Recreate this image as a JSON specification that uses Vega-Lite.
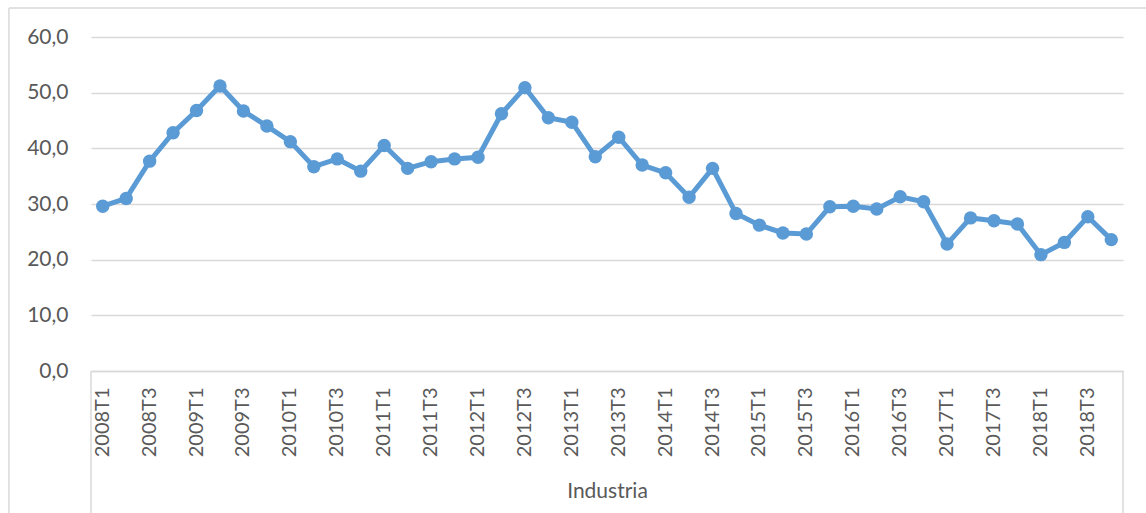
{
  "$schema": "https://vega.github.io/schema/vega-lite/v6.json",
  "width": 1032,
  "height": 334,
  "autosize": {"type": "none"},
  "padding": {"left": 91, "top": 37, "right": 23, "bottom": 142},
  "background": "white",
  "config": {"view": {"stroke": null}, "font": "Lato"},
  "title": {
    "text": "Gráfico 6: Ocupados del sector Industria en Andalucía (miles de personas) (2008-2018)",
    "anchor": "start",
    "frame": "group",
    "orient": "top",
    "baseline": "alphabetic",
    "offset": 4,
    "dx": -86,
    "font": "Liberation Serif",
    "fontStyle": "italic",
    "fontWeight": "bold",
    "fontSize": 24,
    "color": "#000000"
  },
  "data": {
    "values": [
      {"quarter": "2008T1", "value": 29.6}, {"quarter": "2008T2", "value": 31.0},
      {"quarter": "2008T3", "value": 37.7}, {"quarter": "2008T4", "value": 42.8},
      {"quarter": "2009T1", "value": 46.8}, {"quarter": "2009T2", "value": 51.2},
      {"quarter": "2009T3", "value": 46.7}, {"quarter": "2009T4", "value": 44.0},
      {"quarter": "2010T1", "value": 41.2}, {"quarter": "2010T2", "value": 36.7},
      {"quarter": "2010T3", "value": 38.1}, {"quarter": "2010T4", "value": 35.9},
      {"quarter": "2011T1", "value": 40.5}, {"quarter": "2011T2", "value": 36.4},
      {"quarter": "2011T3", "value": 37.6}, {"quarter": "2011T4", "value": 38.1},
      {"quarter": "2012T1", "value": 38.4}, {"quarter": "2012T2", "value": 46.2},
      {"quarter": "2012T3", "value": 50.9}, {"quarter": "2012T4", "value": 45.5},
      {"quarter": "2013T1", "value": 44.7}, {"quarter": "2013T2", "value": 38.5},
      {"quarter": "2013T3", "value": 42.0}, {"quarter": "2013T4", "value": 37.0},
      {"quarter": "2014T1", "value": 35.6}, {"quarter": "2014T2", "value": 31.2},
      {"quarter": "2014T3", "value": 36.4}, {"quarter": "2014T4", "value": 28.3},
      {"quarter": "2015T1", "value": 26.2}, {"quarter": "2015T2", "value": 24.8},
      {"quarter": "2015T3", "value": 24.6}, {"quarter": "2015T4", "value": 29.5},
      {"quarter": "2016T1", "value": 29.6}, {"quarter": "2016T2", "value": 29.1},
      {"quarter": "2016T3", "value": 31.3}, {"quarter": "2016T4", "value": 30.4},
      {"quarter": "2017T1", "value": 22.8}, {"quarter": "2017T2", "value": 27.5},
      {"quarter": "2017T3", "value": 27.0}, {"quarter": "2017T4", "value": 26.4},
      {"quarter": "2018T1", "value": 20.9}, {"quarter": "2018T2", "value": 23.1},
      {"quarter": "2018T3", "value": 27.7}, {"quarter": "2018T4", "value": 23.6}
    ]
  },
  "layer": [
    {
      "mark": {"type": "line", "color": "#5B9BD5", "strokeWidth": 5, "point": {"filled": true, "size": 180, "color": "#5B9BD5", "opacity": 1}},
      "encoding": {
        "x": {
          "field": "quarter",
          "type": "ordinal",
          "sort": null,
          "bandPosition": 0.5,
          "scale": {"type": "band", "paddingInner": 0, "paddingOuter": 0},
          "axis": {
            "title": "Industria",
            "titleFont": "Lato",
            "titleFontSize": 21,
            "titleFontWeight": "normal",
            "titleColor": "#595959",
            "titlePadding": 24,
            "values": ["2008T1","2008T3","2009T1","2009T3","2010T1","2010T3","2011T1","2011T3","2012T1","2012T3","2013T1","2013T3","2014T1","2014T3","2015T1","2015T3","2016T1","2016T3","2017T1","2017T3","2018T1","2018T3"],
            "labelAngle": -90,
            "labelAlign": "right",
            "labelBaseline": "middle",
            "labelFont": "Lato",
            "labelFontSize": 20,
            "labelColor": "#595959",
            "labelPadding": 16,
            "ticks": false,
            "tickSize": 0,
            "domain": true,
            "domainColor": "#D9D9D9",
            "domainWidth": 1.5,
            "grid": false
          }
        },
        "y": {
          "field": "value",
          "type": "quantitative",
          "scale": {"domain": [0, 60], "nice": false, "zero": true},
          "axis": {
            "title": null,
            "values": [0, 10, 20, 30, 40, 50, 60],
            "labelExpr": "replace(format(datum.value, '.1f'), '.', ',')",
            "labelFont": "Lato",
            "labelFontSize": 21,
            "labelColor": "#595959",
            "labelPadding": 23,
            "ticks": false,
            "domain": false,
            "grid": true,
            "gridColor": "#D9D9D9",
            "gridWidth": 1.5
          }
        }
      }
    },
    {
      "data": {"values": [{}]},
      "mark": {"type": "rule", "color": "#D9D9D9", "strokeWidth": 1.5},
      "encoding": {
        "x": {"datum": "2008T1", "type": "ordinal", "bandPosition": 0},
        "y": {"datum": 0, "type": "quantitative"},
        "y2": {"datum": -30}
      }
    },
    {
      "data": {"values": [{}]},
      "mark": {"type": "rule", "color": "#D9D9D9", "strokeWidth": 1.5},
      "encoding": {
        "x": {"datum": "2018T4", "type": "ordinal", "bandPosition": 1},
        "y": {"datum": 0, "type": "quantitative"},
        "y2": {"datum": -30}
      }
    },
    {
      "data": {"values": [{}]},
      "mark": {"type": "rule", "color": "#D9D9D9", "strokeWidth": 1.5},
      "encoding": {
        "x": {"datum": "2008T1", "type": "ordinal", "bandPosition": -3.5},
        "y": {"datum": 65.2, "type": "quantitative"},
        "y2": {"datum": -30}
      }
    },
    {
      "data": {"values": [{}]},
      "mark": {"type": "rule", "color": "#D9D9D9", "strokeWidth": 1.5},
      "encoding": {
        "x": {"datum": "2008T1", "type": "ordinal", "bandPosition": -3.5},
        "x2": {"datum": "2018T4", "bandPosition": 3},
        "y": {"datum": 65.2, "type": "quantitative"}
      }
    }
  ]
}
